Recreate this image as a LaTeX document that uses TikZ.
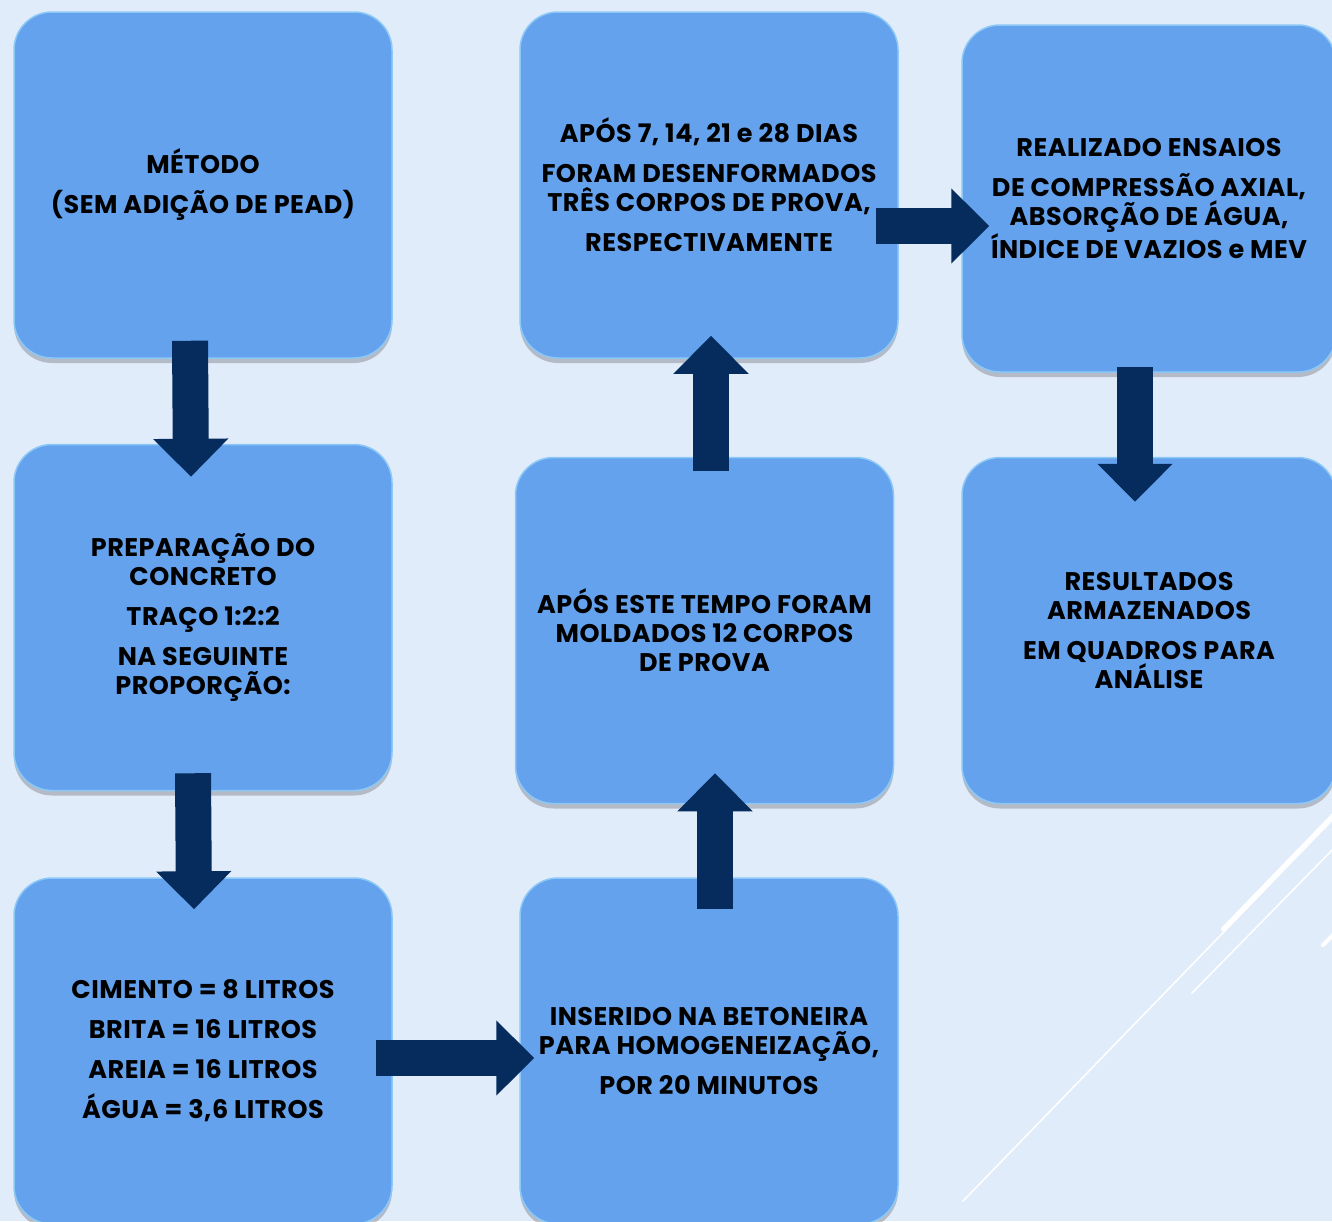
\documentclass[tikz,border=0pt]{standalone}
\usepackage{fontspec}
\setmainfont{Poppins}
\usetikzlibrary{arrows.meta,calc,shadows}
\definecolor{bgblue}{HTML}{E1ECFB}
\definecolor{boxblue}{HTML}{64A2EE}
\definecolor{rimblue}{HTML}{8CC8F6}
\definecolor{navy}{HTML}{052C5C}

\begin{document}
\begin{tikzpicture}[
x=1pt, y=-1pt,
box/.style = {rectangle, rounded corners=38pt, fill=boxblue, draw=rimblue, line width=1.5pt,
              minimum width=378pt, minimum height=346pt, align=center,
              font=\fontsize{25.5}{29}\selectfont\bfseries\addfontfeatures{LetterSpace=2},
              drop shadow={shadow xshift=0pt, shadow yshift=-5pt, opacity=0.3, fill=black!70}},
flow/.style = {navy, line width=36pt, -{Triangle[length=38pt,width=73pt]}},
deco/.style = {white, line cap=round}
                        ]
\fill[bgblue] (0,0) rectangle (1332,1221);
\clip (0,0) rectangle (1332,1221);

\draw[deco, line width=1.5pt] (963,1201) -- (1340,812);
\draw[deco, line width=4pt] (1223,929) -- (1340,808);
\draw[deco, line width=1.5pt] (1192,993) -- (1340,842);
\draw[deco, line width=4pt] (1323,945) -- (1340,928);

    \node[box] (A) at (203,185) {MÉTODO\\[11pt](SEM ADIÇÃO DE PEAD)};
    \node[box] (B) at (203,617.5) {PREPARAÇÃO DO\\CONCRETO\\[11pt]TRAÇO 1:2:2\\[11pt]NA SEGUINTE\\PROPORÇÃO:};
    \node[box] (C) at (203,1051) {CIMENTO = 8 LITROS\\[11pt]BRITA = 16 LITROS\\[11pt]AREIA = 16 LITROS\\[11pt]ÁGUA = 3,6 LITROS};
    \node[box] (D) at (709,1051) {INSERIDO NA BETONEIRA\\PARA HOMOGENEIZAÇÃO,\\[11pt]POR 20 MINUTOS};
    \node[box] (E) at (704.5,630.5) {APÓS ESTE TEMPO FORAM\\MOLDADOS 12 CORPOS\\DE PROVA};
    \node[box] (F) at (709,185) {APÓS 7, 14, 21 e 28 DIAS\\[11pt]FORAM DESENFORMADOS\\TRÊS CORPOS DE PROVA,\\[11pt]RESPECTIVAMENTE};
    \node[box, minimum width=374pt, minimum height=347pt] (G) at (1149,198.5) {REALIZADO ENSAIOS\\[11pt]DE COMPRESSÃO AXIAL,\\ABSORÇÃO DE ÁGUA,\\ÍNDICE DE VAZIOS e MEV};
    \node[box, minimum width=374pt] (H) at (1149,630.5) {RESULTADOS\\ARMAZENADOS\\[11pt]EM QUADROS PARA\\ANÁLISE};

\draw[flow] ($(A.south)+(-13,-18)$) -- ($(B.north)+(-12,33)$);
\draw[flow] ($(B.south)+(-10,-18)$) -- ($(C.north)+(-9,32)$);
\draw[flow] ($(C.east)+(-17,7)$) -- ($(D.west)+(15,7)$);
\draw[flow] ($(D.north)+(6,32)$) -- ($(E.south)+(10.5,-31)$);
\draw[flow] ($(E.north)+(6.5,14)$) -- ($(F.south)+(2,-23)$);
\draw[flow] ($(F.east)+(-23,41)$) -- ($(G.west)+(28,27.5)$);
\draw[flow] ($(G.south)+(-14,-5.5)$) -- ($(H.north)+(-14,45)$);

\end{tikzpicture}
\end{document}
